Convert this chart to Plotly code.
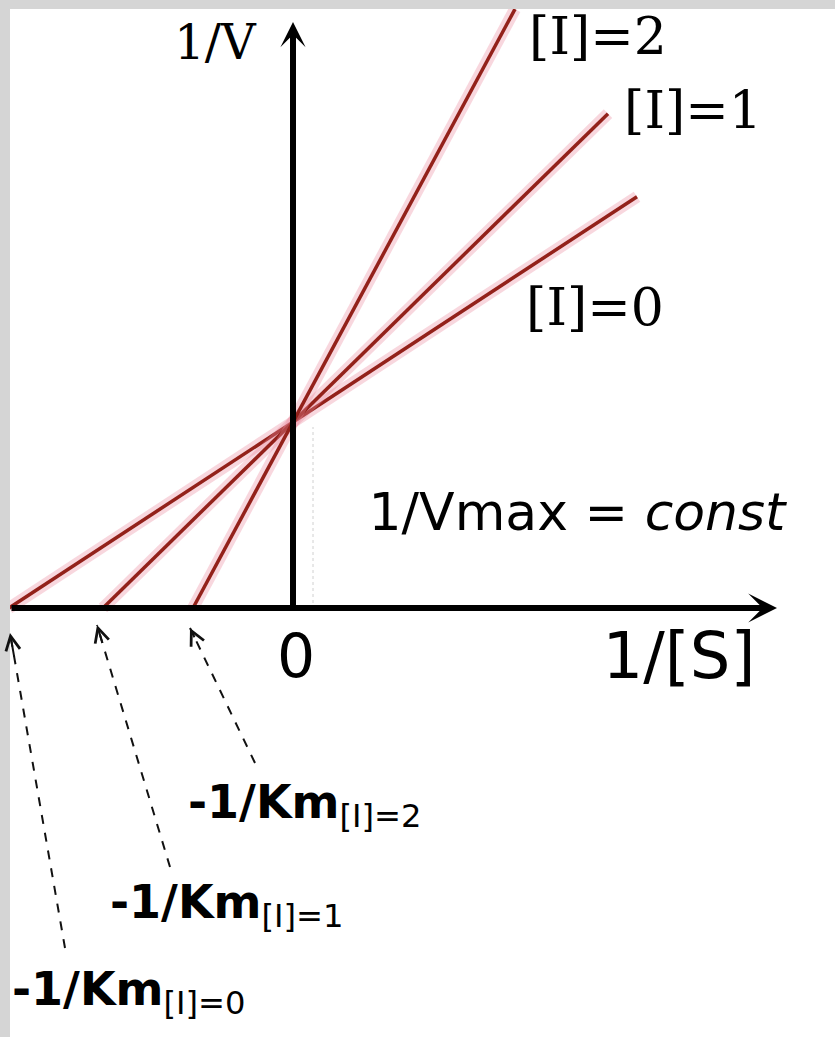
import plotly.graph_objects as go

# Lineweaver-Burk plot with a competitive inhibitor:
# all lines share the 1/Vmax intercept, x-intercepts are -1/Km(app).
inhibitor_levels = ["[I]=0", "[I]=1", "[I]=2"]
x_intercepts = [-2.84, -1.90, -1.00]      # -1/Km for each inhibitor level
inv_vmax = 1.86                            # common y-intercept
x_ends = [3.44, 3.15, 2.22]                # right end of each line (1/[S])

line_labels = ["[I]=0", "[I]=1", "[I]=2"]
km_labels = ["-1/Km<sub><span style='font-weight:normal'>[I]=0</span></sub>",
             "-1/Km<sub><span style='font-weight:normal'>[I]=1</span></sub>",
             "-1/Km<sub><span style='font-weight:normal'>[I]=2</span></sub>"]

fig = go.Figure()

# soft halo + dark red core for each line
for xi, xe in zip(x_intercepts, x_ends):
    slope = inv_vmax / (-xi)
    xs = [xi, xe]
    ys = [0.0, inv_vmax + slope * xe]
    fig.add_trace(go.Scatter(x=xs, y=ys, mode="lines",
                             line=dict(color="rgba(236,140,160,0.35)", width=12),
                             hoverinfo="skip", showlegend=False))
    fig.add_trace(go.Scatter(x=xs, y=ys, mode="lines",
                             line=dict(color="#93211a", width=3.5),
                             hoverinfo="skip", showlegend=False))

# faint dotted guide from the intercept down to the axis
fig.add_trace(go.Scatter(x=[0.2, 0.2], y=[0.05, inv_vmax - 0.05], mode="lines",
                         line=dict(color="#d0d0d0", width=1, dash="dot"),
                         hoverinfo="skip", showlegend=False))

# dashed leaders from the -1/Km labels to the x-intercepts
leader_tails = [(-2.28, -3.40), (-1.23, -2.59), (-0.38, -1.55)]
leader_tips = [(-2.83, -0.25), (-1.96, -0.17), (-1.03, -0.20)]
for (tx, ty), (hx, hy) in zip(leader_tails, leader_tips):
    fig.add_trace(go.Scatter(x=[tx, hx], y=[ty, hy], mode="lines",
                             line=dict(color="#111111", width=2, dash="dash"),
                             hoverinfo="skip", showlegend=False))
    dx, dy = hx - tx, hy - ty
    fig.add_annotation(x=hx, y=hy, ax=hx - dx * 0.08, ay=hy - dy * 0.08,
                       xref="x", yref="y", axref="x", ayref="y", text="",
                       showarrow=True, arrowhead=5, arrowsize=1.4,
                       arrowwidth=2, arrowcolor="#111111")

# coordinate axes with arrow heads
fig.add_annotation(x=0, y=5.86, ax=0, ay=-0.02, xref="x", yref="y",
                   axref="x", ayref="y", text="", showarrow=True,
                   arrowhead=3, arrowsize=0.7, arrowwidth=6, arrowcolor="black")
fig.add_annotation(x=4.84, y=0, ax=-2.83, ay=0, xref="x", yref="y",
                   axref="x", ayref="y", text="", showarrow=True,
                   arrowhead=3, arrowsize=0.8, arrowwidth=6, arrowcolor="black")

serif = "DejaVu Serif"
sans = "DejaVu Sans"

def label(x, y, text, size, family, pos="middle center", color="black"):
    fig.add_trace(go.Scatter(x=[x], y=[y], mode="text", text=[text],
                             textposition=pos, cliponaxis=True,
                             textfont=dict(family=family, size=size, color=color),
                             hoverinfo="skip", showlegend=False))

label(-0.78, 5.61, "1/V", 48, serif)
label(3.05, 5.67, line_labels[2], 52, serif)
label(4.00, 4.93, line_labels[1], 52, serif)
label(3.02, 2.96, line_labels[0], 52, serif)
label(2.84, 0.91, "1/Vmax = <i>const</i>", 52, sans)
label(0.03, -0.54, "0", 60, sans)
label(3.86, -0.54, "1/[S]", 64, sans)

km_anchor = [(-2.81, -3.85), (-1.83, -2.98), (-1.05, -1.98)]
for (ax_, ay_), txt in zip(km_anchor, km_labels):
    label(ax_, ay_, "<b>" + txt + "</b>", 46, sans, pos="middle right")

fig.update_layout(
    width=835, height=1037,
    margin=dict(l=10, r=0, t=9, b=0),
    paper_bgcolor="#d5d5d5",
    plot_bgcolor="white",
    showlegend=False,
    xaxis=dict(range=[-2.83, 5.42], visible=False, fixedrange=True),
    yaxis=dict(range=[-4.29, 5.99], visible=False, fixedrange=True),
)

fig.write_html("out.html")
